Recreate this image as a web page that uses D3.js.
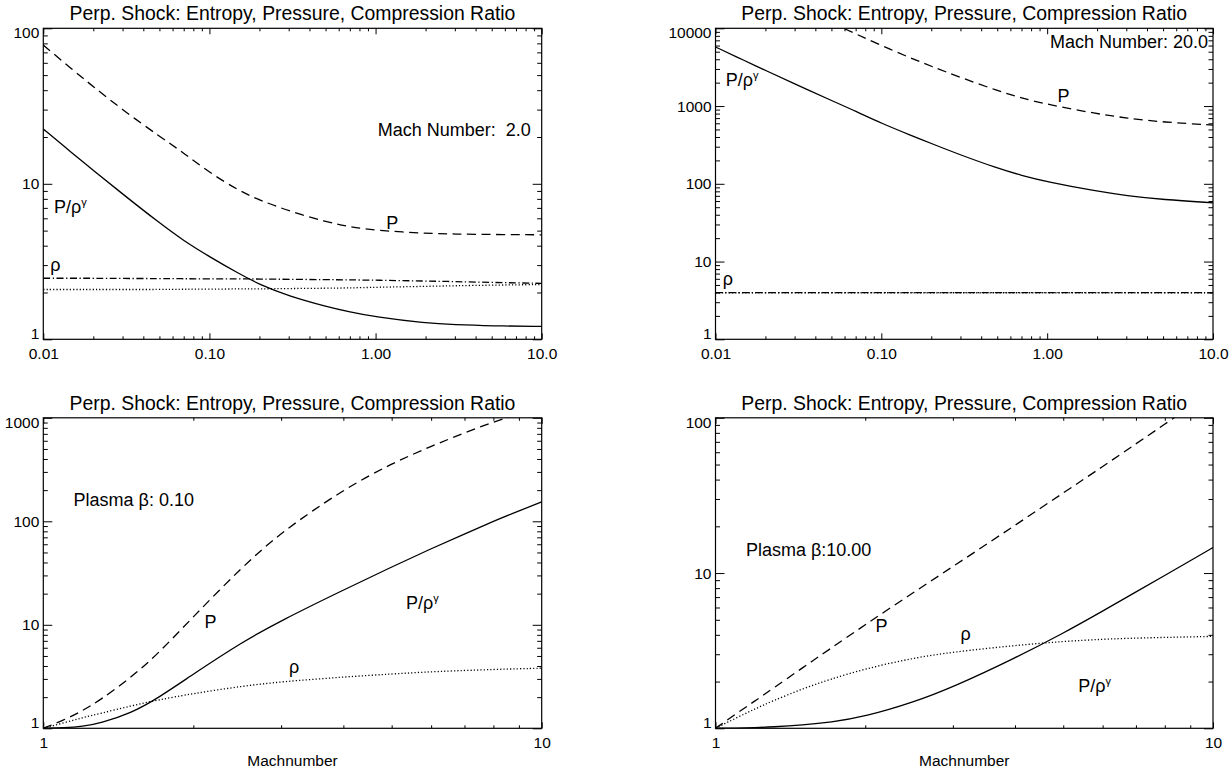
<!DOCTYPE html>
<html>
<head>
<meta charset="utf-8">
<script src="https://cdn.jsdelivr.net/npm/d3@7"></script>
<style>
  body { margin: 0; background: #fff; }
  svg text { font-family: "Liberation Sans", Arial, Helvetica, sans-serif; fill: #000; white-space: pre; }
</style>
</head>
<body>
<svg id="chart" width="1230" height="771"></svg>
<script>
// ---- data ----
// top row: x = plasma beta
var betaGrid = [0.01, 0.015, 0.02, 0.03, 0.05, 0.07, 0.1, 0.15, 0.2, 0.3, 0.5, 0.7, 1, 2, 3, 5, 10];
var m2Entropy  = [22.5, 15.7, 12.2, 8.6, 5.6, 4.3, 3.4, 2.65, 2.25, 1.9, 1.63, 1.5, 1.39, 1.27, 1.24, 1.22, 1.21];
var m2Pressure = [78, 54.2, 42.1, 29.9, 20.2, 15.8, 11.8, 9.06, 7.85, 6.69, 5.7, 5.29, 5.01, 4.80, 4.75, 4.72, 4.70];
var m2Density  = [2.09, 2.09, 2.09, 2.09, 2.09, 2.10, 2.10, 2.11, 2.11, 2.12, 2.13, 2.14, 2.16, 2.19, 2.21, 2.23, 2.25];
var m2DashDot  = [2.47, 2.47, 2.47, 2.46, 2.46, 2.45, 2.45, 2.45, 2.44, 2.43, 2.42, 2.41, 2.40, 2.37, 2.35, 2.32, 2.29];

var m20Entropy  = [5750, 3830, 2875, 1930, 1180, 860, 600, 422, 330, 235, 159, 128, 106, 80, 70.5, 62.5, 57];
var m20PressureBeta = [0.05, 0.07, 0.1, 0.15, 0.2, 0.3, 0.5, 0.7, 1, 2, 3, 5, 10];
var m20Pressure = [11800, 8500, 6000, 4150, 3250, 2330, 1580, 1270, 1050, 795, 700, 620, 570];
var m20Density  = [3.97, 3.97, 3.97, 3.97, 3.97, 3.97, 3.97, 3.97, 3.97, 3.97, 3.97, 3.97, 3.97, 3.97, 3.97, 3.97, 3.97];
var m20DashDot  = [3.98, 3.98, 3.98, 3.98, 3.98, 3.98, 3.98, 3.98, 3.98, 3.98, 3.98, 3.98, 3.98, 3.98, 3.98, 3.98, 3.98];

// bottom row: x = Mach number
var machGrid = [1, 1.1, 1.2, 1.3, 1.5, 1.7, 2, 2.5, 3, 4, 5, 6, 7, 8, 9, 10];
var machPGrid = [1, 1.1, 1.2, 1.3, 1.5, 1.7, 2, 2.5, 3, 4, 5, 6, 7, 8, 9];
var b01Entropy  = [1.0, 1.01, 1.04, 1.12, 1.40, 1.96, 3.34, 6.76, 11.0, 21.7, 36.2, 54.4, 75.5, 100, 126, 154];
var b01Pressure = [1.0, 1.2, 1.48, 1.87, 3.1, 5.25, 12.0, 35.8, 78.4, 203, 362, 531, 717, 912, 1088];
var b01Density  = [1.0, 1.13, 1.27, 1.39, 1.65, 1.88, 2.17, 2.55, 2.82, 3.13, 3.35, 3.52, 3.62, 3.70, 3.76, 3.81];

var b10Entropy  = [1.0, 1.003, 1.01, 1.02, 1.05, 1.09, 1.19, 1.47, 1.84, 2.83, 4.09, 5.68, 7.55, 9.66, 12.0, 14.6];
var b10Pressure = [1.0, 1.24, 1.5, 1.79, 2.47, 3.25, 4.65, 7.5, 11.0, 20.3, 32.8, 48.5, 68, 91, 118];
var b10Density  = [1.0, 1.165, 1.333, 1.497, 1.804, 2.069, 2.42, 2.84, 3.10, 3.42, 3.63, 3.75, 3.81, 3.85, 3.88, 3.91];

// tick labels
var betaTicks = [0.01, 0.1, 1, 10];
var betaTickLabels = ['0.01', '0.10', '1.00', '10.0'];
var machTicks = [1, 10];
var machTickLabels = ['1', '10'];

var titleText = 'Perp. Shock: Entropy, Pressure, Compression Ratio';

// ---- drawing ----
var svg = d3.select('#chart');
var defs = svg.append('defs');
var FONT = '"Liberation Sans", Arial, Helvetica, sans-serif';

var styles = {
    solid:   null,
    dashed:  '9,5.5',
    dotted:  '1.2,2.1',
    dashdot: '7,2.5,1.3,2.5'
};

function drawPanel(cfg) {
    var x = d3.scaleLog().domain(cfg.xDomain).range([cfg.left, cfg.right]);
    var y = d3.scaleLog().domain(cfg.yDomain).range([cfg.bottom, cfg.top]);
    var g = svg.append('g');

    defs.append('clipPath').attr('id', 'clip' + cfg.id)
        .append('rect')
        .attr('x', cfg.left).attr('y', cfg.top)
        .attr('width', cfg.right - cfg.left).attr('height', cfg.bottom - cfg.top);

    // read-off points are a little noisy, so smooth with a B-spline
    var line = d3.line()
        .x(function(d) { return x(d[0]); })
        .y(function(d) { return y(d[1]); })
        .curve(d3.curveBasis);

    var curves = g.append('g').attr('clip-path', 'url(#clip' + cfg.id + ')');
    cfg.series.forEach(function(s) {
        curves.append('path')
            .datum(d3.zip(s.x, s.y))
            .attr('d', line)
            .attr('fill', 'none')
            .attr('stroke', '#000')
            .attr('stroke-width', 1.3)
            .attr('stroke-dasharray', styles[s.style]);
    });

    // ticks: majors from the label list, minors from the log scale itself
    var xMinor = x.ticks().filter(function(v) { return cfg.xTicks.indexOf(v) < 0; });
    var yMajor = y.ticks().filter(function(v) { return Math.abs(Math.log10(v) - Math.round(Math.log10(v))) < 1e-9; });
    var yMinor = y.ticks().filter(function(v) { return yMajor.indexOf(v) < 0; });

    function addAxis(axis, transform) {
        var a = g.append('g').attr('transform', transform).call(axis);
        a.select('.domain').remove();
        a.attr('font-size', 15.5).attr('font-family', FONT);
        a.selectAll('line').attr('stroke-width', 1);
        return a;
    }

    addAxis(d3.axisBottom(x).tickValues(cfg.xTicks).tickSize(-6).tickPadding(9)
        .tickFormat(function(d, i) { return cfg.xLabels[i]; }), 'translate(0,' + cfg.bottom + ')');
    addAxis(d3.axisBottom(x).tickValues(xMinor).tickSize(-3).tickFormat(''), 'translate(0,' + cfg.bottom + ')');
    addAxis(d3.axisTop(x).tickValues(cfg.xTicks).tickSize(-6).tickFormat(''), 'translate(0,' + cfg.top + ')');
    addAxis(d3.axisTop(x).tickValues(xMinor).tickSize(-3).tickFormat(''), 'translate(0,' + cfg.top + ')');

    var yl = addAxis(d3.axisLeft(y).tickValues(yMajor).tickSize(-9).tickPadding(4)
        .tickFormat(d3.format('d')), 'translate(' + cfg.left + ',0)');
    addAxis(d3.axisLeft(y).tickValues(yMinor).tickSize(-4.5).tickFormat(''), 'translate(' + cfg.left + ',0)');
    addAxis(d3.axisRight(y).tickValues(yMajor).tickSize(-9).tickFormat(''), 'translate(' + cfg.right + ',0)');
    addAxis(d3.axisRight(y).tickValues(yMinor).tickSize(-4.5).tickFormat(''), 'translate(' + cfg.right + ',0)');

    // end labels are pulled inside the axis span, as in the original
    var yTexts = yl.selectAll('.tick text');
    yTexts.filter(function(d) { return d === yMajor[0]; }).attr('y', -5.5);
    yTexts.filter(function(d) { return d === yMajor[yMajor.length - 1]; }).attr('y', 4.5);

    g.append('rect')
        .attr('x', cfg.left).attr('y', cfg.top)
        .attr('width', cfg.right - cfg.left).attr('height', cfg.bottom - cfg.top)
        .attr('fill', 'none').attr('stroke', '#000').attr('stroke-width', 1.2);

    g.append('text')
        .attr('x', (cfg.left + cfg.right) / 2).attr('y', cfg.top - 8)
        .attr('text-anchor', 'middle').attr('font-size', 19.4)
        .text(titleText);

    if (cfg.xTitle) {
        g.append('text')
            .attr('x', (cfg.left + cfg.right) / 2).attr('y', cfg.bottom + 38)
            .attr('text-anchor', 'middle').attr('font-size', 15.5)
            .text(cfg.xTitle);
    }

    cfg.notes.forEach(function(n) {
        var t = g.append('text')
            .attr('x', x(n.at[0])).attr('y', y(n.at[1]))
            .attr('font-size', 18);
        if (n.sup) {
            t.append('tspan').text(n.text);
            t.append('tspan').attr('font-size', 11).attr('dy', -7).text(n.sup);
        } else {
            t.text(n.text);
        }
    });
}

drawPanel({
    id: 'tl', left: 43.3, right: 541.7, top: 28.3, bottom: 339.3,
    xDomain: [0.01, 10], yDomain: [1, 100],
    xTicks: betaTicks, xLabels: betaTickLabels,
    series: [
        { x: betaGrid, y: m2Entropy, style: 'solid' },
        { x: betaGrid, y: m2Pressure, style: 'dashed' },
        { x: betaGrid, y: m2Density, style: 'dotted' },
        { x: betaGrid, y: m2DashDot, style: 'dashdot' }
    ],
    notes: [
        { text: 'Mach Number:  2.0', at: [1.03, 20.3] },
        { text: 'P/\u03c1', sup: '\u03b3', at: [0.0116, 6.46] },
        { text: 'P', at: [1.16, 5.12] },
        { text: '\u03c1', at: [0.0110, 2.76] }
    ]
});

drawPanel({
    id: 'tr', left: 715.5, right: 1213, top: 28.3, bottom: 339.3,
    xDomain: [0.01, 10], yDomain: [1, 10000],
    xTicks: betaTicks, xLabels: betaTickLabels,
    series: [
        { x: betaGrid, y: m20Entropy, style: 'solid' },
        { x: m20PressureBeta, y: m20Pressure, style: 'dashed' },
        { x: betaGrid, y: m20Density, style: 'dotted' },
        { x: betaGrid, y: m20DashDot, style: 'dashdot' }
    ],
    notes: [
        { text: 'Mach Number: 20.0', at: [1.04, 5530] },
        { text: 'P/\u03c1', sup: '\u03b3', at: [0.01154, 1811] },
        { text: 'P', at: [1.156, 1137] },
        { text: '\u03c1', at: [0.01106, 4.99] }
    ]
});

drawPanel({
    id: 'bl', left: 43.3, right: 541.7, top: 417.8, bottom: 728.3,
    xDomain: [1, 10], yDomain: [1, 1000],
    xTicks: machTicks, xLabels: machTickLabels, xTitle: 'Machnumber',
    series: [
        { x: machGrid, y: b01Entropy, style: 'solid' },
        { x: machPGrid, y: b01Pressure, style: 'dashed' },
        { x: machGrid, y: b01Density, style: 'dotted' }
    ],
    notes: [
        { text: 'Plasma \u03b2: 0.10', at: [1.15, 140] },
        { text: 'P', at: [2.107, 9.23] },
        { text: 'P/\u03c1', sup: '\u03b3', at: [5.34, 14.2] },
        { text: '\u03c1', at: [3.11, 3.40] }
    ]
});

drawPanel({
    id: 'br', left: 715.5, right: 1213, top: 417.8, bottom: 728.3,
    xDomain: [1, 10], yDomain: [1, 100],
    xTicks: machTicks, xLabels: machTickLabels, xTitle: 'Machnumber',
    series: [
        { x: machGrid, y: b10Entropy, style: 'solid' },
        { x: machPGrid, y: b10Pressure, style: 'dashed' },
        { x: machGrid, y: b10Density, style: 'dotted' }
    ],
    notes: [
        { text: 'Plasma \u03b2:10.00', at: [1.151, 12.8] },
        { text: 'P', at: [2.098, 4.19] },
        { text: '\u03c1', at: [3.107, 3.71] },
        { text: 'P/\u03c1', sup: '\u03b3', at: [5.36, 1.72] }
    ]
});
</script>
</body>
</html>
